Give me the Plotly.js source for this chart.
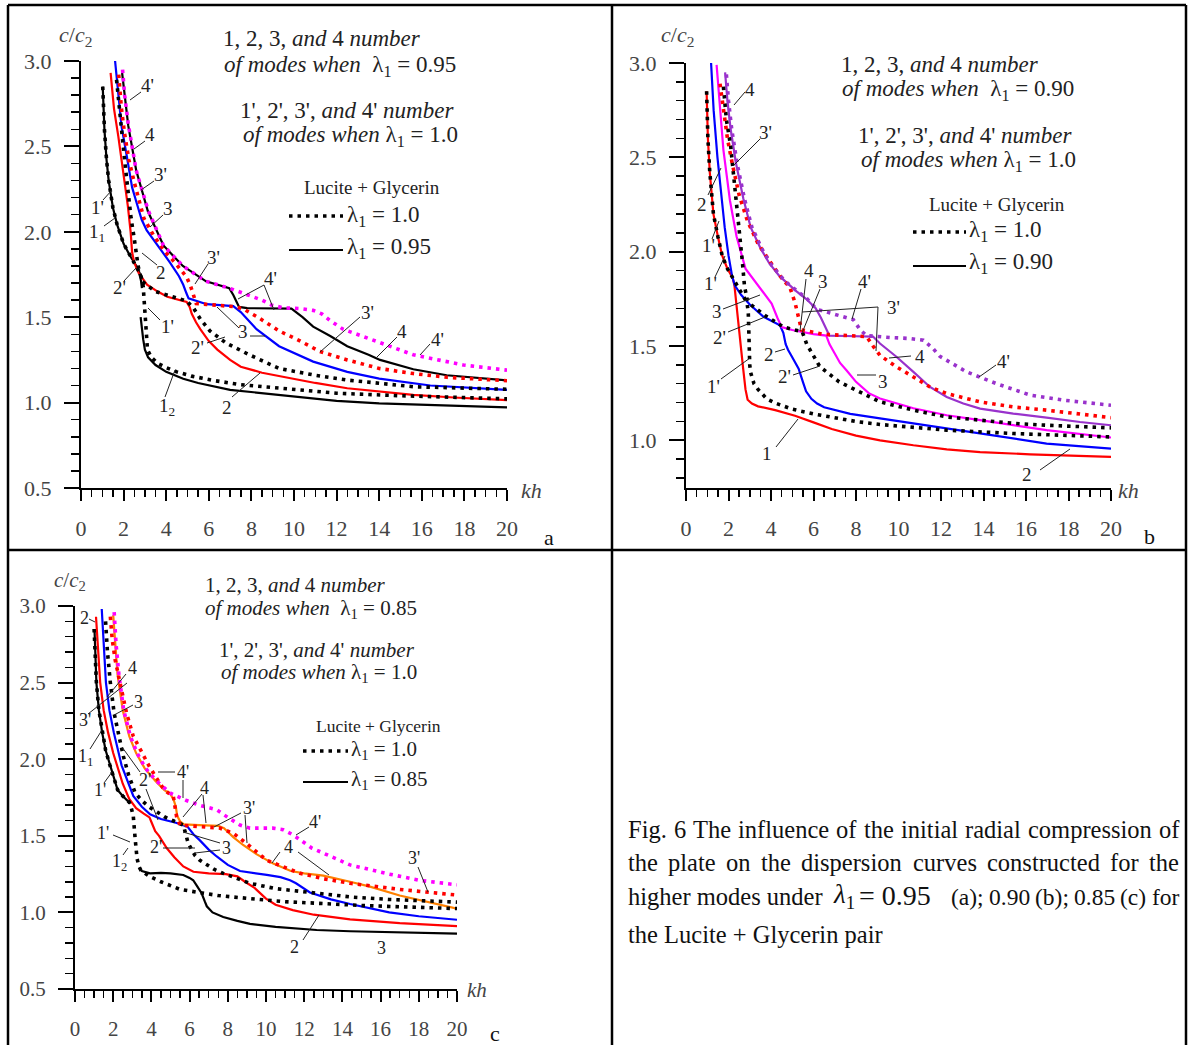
<!DOCTYPE html>
<html><head><meta charset="utf-8">
<script src="https://cdn.plot.ly/plotly-3.0.1.min.js"></script>
<style>html,body{margin:0;padding:0;background:#fff}#chart{width:1189px;height:1045px}</style>
</head><body><div id="chart"></div>
<script>
// ---------------- Panel a : λ1 = 0.95 (solid), λ1 = 1.0 (dotted) ----------------
const a_kh_1_1 = [1.02,1.1,1.2,1.3,1.5,1.7,2.0,2.3,2.6,2.75,2.82,2.86];
const a_c_1_1  = [2.85,2.6,2.42,2.3,2.14,2.04,1.93,1.86,1.8,1.76,1.71,1.67];
const a_kh_1p = [1.02,1.1,1.2,1.3,1.5,1.7,2.0,2.3,2.6,2.8,2.92,2.98,3.02,3.06,3.12,3.3,3.6,4.0,4.5,5.2,6.2,7.5,9.3,12,15,17.5,20];
const a_c_1p  = [2.85,2.6,2.42,2.3,2.14,2.04,1.93,1.86,1.8,1.75,1.68,1.58,1.47,1.38,1.31,1.265,1.23,1.205,1.18,1.155,1.13,1.105,1.085,1.055,1.04,1.03,1.022];
const a_kh_1_2 = [2.8,2.85,2.92,3.0,3.15,3.5,4.0,4.8,5.5,7.0,9.3,12,14,17,20];
const a_c_1_2  = [1.5,1.44,1.37,1.31,1.265,1.22,1.18,1.14,1.115,1.075,1.045,1.01,0.996,0.983,0.972];
const a_kh_2 = [1.39,1.55,1.75,2.0,2.2,2.33,2.4,2.5,2.7,3.1,3.6,4.05,4.5,4.96,5.1,5.2,5.4,5.6,6.0,6.4,7.0,7.5,8.5,9.3,11,12.5,15.6,17.5,20];
const a_c_2  = [2.93,2.72,2.56,2.34,2.15,2.0,1.88,1.82,1.76,1.69,1.65,1.62,1.605,1.59,1.56,1.52,1.47,1.43,1.36,1.31,1.25,1.21,1.175,1.156,1.115,1.084,1.045,1.03,1.015];
const a_kh_2p = [1.67,1.8,1.95,2.1,2.22,2.35,2.5,2.68,2.86,3.5,4.3,4.96,5.3,5.6,6.05,6.8,7.9,9.3,11,12.5,15.6,20];
const a_c_2p  = [2.89,2.7,2.54,2.36,2.21,2.08,1.96,1.8,1.71,1.65,1.62,1.595,1.55,1.49,1.42,1.35,1.28,1.2,1.16,1.132,1.093,1.078];
const a_kh_3 = [1.6,1.75,1.9,2.14,2.4,2.61,2.85,3.08,3.55,4.18,4.6,4.8,4.95,5.05,5.9,7.15,7.5,8.24,9.3,10.9,12.5,14,16.4,20];
const a_c_3  = [3.0,2.8,2.62,2.45,2.26,2.17,2.07,2.01,1.93,1.82,1.74,1.69,1.64,1.61,1.576,1.565,1.53,1.43,1.33,1.24,1.18,1.14,1.1,1.074];
const a_kh_3p = [1.77,1.9,2.04,2.25,2.5,2.95,3.4,3.9,4.41,4.96,5.15,5.3,5.41,5.9,7.15,7.6,8.3,9.3,10.3,11.2,12.5,14,15.6,17.2,20];
const a_c_3p  = [2.92,2.72,2.58,2.42,2.29,2.08,1.98,1.89,1.82,1.735,1.68,1.62,1.58,1.575,1.562,1.55,1.5,1.42,1.36,1.3,1.25,1.2,1.17,1.148,1.128];
const a_kh_4 = [1.93,2.05,2.22,2.59,3.14,3.87,4.78,5.87,6.96,7.15,7.3,7.42,7.8,8.8,9.88,10.4,10.9,11.7,12.5,13.5,14.04,15.6,17.17,20];
const a_c_4  = [2.93,2.8,2.62,2.36,2.12,1.92,1.8,1.71,1.67,1.63,1.59,1.56,1.553,1.55,1.55,1.5,1.445,1.39,1.33,1.28,1.25,1.195,1.16,1.13];
const a_kh_4p = [1.95,2.05,2.22,2.59,3.14,3.87,4.78,5.87,6.96,7.88,8.5,8.97,9.5,10.3,10.9,11.3,11.7,12.3,13.25,14.5,15.6,17.95,20];
const a_c_4p  = [2.95,2.8,2.63,2.36,2.13,1.92,1.8,1.71,1.67,1.63,1.6,1.57,1.555,1.55,1.54,1.52,1.48,1.43,1.386,1.33,1.28,1.22,1.19];

// ---------------- Panel b : λ1 = 0.90 (solid), λ1 = 1.0 (dotted) ----------------
const b_kh_1 = [0.97,1.03,1.12,1.29,1.5,1.7,1.95,2.2,2.28,2.35,2.43,2.55,2.69,2.8,2.9,3.1,3.39,4.2,5.13,6.0,6.86,8.0,9.13,10.7,12.27,13.84,16.19,20];
const b_c_1  = [2.85,2.6,2.42,2.2,2.08,1.98,1.91,1.86,1.82,1.74,1.66,1.52,1.38,1.27,1.215,1.195,1.18,1.16,1.13,1.095,1.06,1.025,1.0,0.974,0.952,0.938,0.926,0.912];
const b_kh_1p = [0.97,1.03,1.12,1.29,1.5,1.7,1.95,2.2,2.5,2.87,2.93,2.95,2.96,3.0,3.04,3.2,3.39,3.8,4.26,5.0,6.0,7.0,8.0,9.13,10.7,12.27,15.4,20];
const b_c_1p  = [2.85,2.6,2.42,2.2,2.08,1.98,1.91,1.86,1.8,1.73,1.68,1.58,1.47,1.4,1.36,1.3,1.27,1.22,1.195,1.165,1.14,1.12,1.1,1.084,1.068,1.054,1.036,1.018];
const b_kh_2 = [1.18,1.3,1.48,1.65,1.82,2.0,2.17,2.3,2.6,3.0,3.65,4.42,4.58,4.69,4.8,5.0,5.3,5.5,5.65,5.9,6.17,6.5,7.73,9.13,10.7,12.27,13.84,15.4,16.97,20];
const b_c_2  = [3.0,2.75,2.5,2.3,2.13,1.98,1.87,1.82,1.77,1.72,1.655,1.61,1.57,1.51,1.48,1.44,1.38,1.31,1.26,1.22,1.195,1.175,1.14,1.116,1.09,1.063,1.036,1.01,0.983,0.956];
const b_kh_2p = [1.76,1.9,2.1,2.35,2.5,2.65,2.75,2.87,3.04,3.74,4.6,5.2,5.47,5.68,6.0,6.3,7.21,8.6,9.13,10.7,12.27,13.84,15.4,16.97,20];
const b_c_2p  = [2.875,2.7,2.56,2.3,2.15,1.95,1.82,1.75,1.72,1.66,1.6,1.585,1.575,1.51,1.45,1.39,1.31,1.23,1.204,1.16,1.124,1.107,1.09,1.08,1.066];
const b_kh_3 = [1.44,1.6,1.76,2.07,2.38,2.8,3.45,4.03,4.3,4.5,5.0,5.5,6.0,6.6,6.75,7.0,7.25,7.56,8.0,8.6,9.13,10.7,12.27,13.84,15.4,16.97,20];
const b_c_3  = [2.99,2.75,2.54,2.27,2.08,1.91,1.815,1.725,1.65,1.6,1.585,1.572,1.563,1.555,1.51,1.46,1.41,1.37,1.31,1.25,1.222,1.17,1.133,1.107,1.08,1.054,1.015];
const b_kh_3p = [1.6,1.75,1.95,2.17,2.5,2.9,3.4,4.0,4.5,4.89,5.13,5.3,5.44,6.46,7.5,8.5,8.8,9.13,9.9,10.7,11.48,12.27,13.84,15.4,16.97,20];
const b_c_3p  = [2.89,2.75,2.6,2.47,2.3,2.16,2.04,1.94,1.86,1.81,1.73,1.65,1.585,1.562,1.555,1.55,1.5,1.45,1.39,1.336,1.283,1.248,1.204,1.177,1.16,1.12];
const b_kh_4 = [1.84,1.95,2.1,2.35,2.7,3.04,3.5,3.91,4.4,4.78,5.2,5.65,6.1,6.35,6.6,6.75,7.5,8.8,9.13,9.9,10.7,11.48,12.27,13.05,13.84,15.4,16.97,18.54,20];
const b_c_4  = [2.95,2.8,2.65,2.47,2.28,2.13,2.02,1.94,1.87,1.83,1.79,1.75,1.7,1.65,1.59,1.555,1.553,1.55,1.513,1.443,1.363,1.283,1.23,1.195,1.168,1.142,1.12,1.097,1.08];
const b_kh_4p = [1.9,2.0,2.15,2.4,2.75,3.1,3.55,3.95,4.45,4.8,5.25,5.7,6.1,6.3,7.25,7.87,8.2,8.5,9.6,10.5,11.17,11.6,11.95,13.2,14.62,16.19,17.76,20];
const b_c_4p  = [2.94,2.8,2.65,2.47,2.28,2.13,2.02,1.94,1.87,1.83,1.79,1.75,1.7,1.69,1.66,1.64,1.585,1.555,1.545,1.54,1.531,1.49,1.445,1.363,1.3,1.24,1.213,1.186];

// ---------------- Panel c : λ1 = 0.85 (solid), λ1 = 1.0 (dotted) ----------------
const c_kh_1_1 = [1.02,1.06,1.12,1.25,1.42,1.6,1.83,2.05,2.23,2.5,2.75,2.9];
const c_c_1_1  = [2.85,2.65,2.5,2.32,2.175,2.06,1.96,1.87,1.8,1.76,1.73,1.71];
const c_kh_1p = [1.0,1.06,1.12,1.25,1.42,1.6,1.83,2.05,2.23,2.5,2.84,2.95,3.05,3.15,3.25,3.35,3.45,3.9,4.5,5.5,6.5,7.5,9.16,11,12.65,15,17.5,20];
const c_c_1p  = [2.85,2.65,2.5,2.32,2.175,2.06,1.96,1.87,1.8,1.76,1.72,1.68,1.63,1.48,1.35,1.3,1.275,1.235,1.2,1.15,1.13,1.11,1.09,1.07,1.06,1.045,1.035,1.025];
const c_kh_low = [3.35,3.5,3.93,4.5,5.0,5.67,6.0,6.19,6.4,6.63,6.8,6.9,7.2,7.76,8.5,9.16,10.5,12.65,14.4,17,20];
const c_c_low  = [1.29,1.27,1.255,1.258,1.255,1.244,1.225,1.21,1.17,1.125,1.07,1.04,1.0,0.97,0.945,0.925,0.905,0.885,0.877,0.868,0.862];
const c_kh_2 = [1.1,1.2,1.32,1.5,1.73,2.0,2.23,2.5,2.84,3.2,3.6,3.9,4.0,4.2,4.4,4.8,5.2,5.67,6.2,7.0,7.9,8.5,8.9,9.4,10.0,10.5,11.4,12.5,14.4,17,20];
const c_c_2  = [2.93,2.7,2.5,2.32,2.175,2.04,1.94,1.84,1.74,1.68,1.645,1.62,1.59,1.53,1.5,1.42,1.36,1.3,1.265,1.255,1.25,1.235,1.2,1.16,1.09,1.05,1.015,0.985,0.955,0.93,0.91];
const c_kh_2p = [1.6,1.7,1.85,2.05,2.27,2.53,2.8,3.15,3.5,3.86,4.3,4.67,5.2,5.67,5.93,6.29,6.54,7.3,7.76,9.16,10.5,12.65,14.5,16.4,18,20];
const c_c_2p  = [2.9,2.7,2.5,2.3,2.17,2.02,1.9,1.78,1.73,1.69,1.655,1.625,1.595,1.57,1.45,1.37,1.34,1.28,1.255,1.19,1.155,1.125,1.1,1.085,1.075,1.067];
const c_kh_3 = [1.4,1.5,1.62,1.8,2.03,2.44,3.05,3.5,3.93,4.5,5.28,5.89,6.2,6.54,7.0,7.42,8.0,8.64,9.34,10.04,10.76,11.26,11.57,12.3,13.4,14.4,16.45,18,20];
const c_c_3  = [2.98,2.75,2.5,2.32,2.175,1.96,1.76,1.69,1.64,1.61,1.585,1.56,1.51,1.47,1.41,1.365,1.31,1.27,1.255,1.245,1.23,1.21,1.19,1.13,1.085,1.055,1.0,0.975,0.952];
const c_kh_3p = [1.85,1.95,2.1,2.34,2.7,3.05,3.45,3.86,4.25,4.67,5.15,5.24,5.32,5.5,6.5,7.59,8.29,8.98,10.04,11.0,11.78,13.0,14.4,17.0,20];
const c_c_3p  = [2.93,2.78,2.65,2.5,2.3,2.15,2.05,1.96,1.88,1.8,1.755,1.69,1.625,1.57,1.56,1.55,1.516,1.45,1.34,1.29,1.255,1.22,1.19,1.15,1.113];
const c_kh_4 = [2.0,2.1,2.23,2.5,2.84,3.2,3.65,4.2,4.67,5.0,5.15,5.28,5.35,5.5,5.7,6.5,7.5,7.8,8.3,8.8,9.5,10.35,11.3,12.0,13.0,14.4,15.4,17.0,18.5,20];
const c_c_4  = [2.94,2.75,2.55,2.32,2.15,2.04,1.94,1.86,1.8,1.77,1.74,1.69,1.63,1.595,1.575,1.57,1.565,1.55,1.49,1.44,1.38,1.32,1.27,1.255,1.24,1.2,1.17,1.11,1.065,1.025];
const c_kh_4p = [2.05,2.15,2.3,2.55,2.9,3.25,3.7,4.25,4.97,5.84,6.5,7.42,8.0,8.64,9.16,10.35,10.9,11.17,11.43,12.4,14.4,16.45,18,20];
const c_c_4p  = [2.96,2.75,2.55,2.32,2.15,2.04,1.94,1.86,1.78,1.73,1.7,1.67,1.62,1.57,1.55,1.55,1.54,1.52,1.505,1.42,1.31,1.25,1.21,1.18];

const kh_ticks = [0,2,4,6,8,10,12,14,16,18,20];

const W = 1189, H = 1045, F = 'Liberation Serif';
const RED='#ff0000', BLUE='#0000ff', BLK='#000000', MAG='#ff00ff', PUR='#9932cc', ORG='#ff8000';
const DOT = '3.5px,5px';

function tr(kh, c, color, dotted, ax){
  return {type:'scatter', mode:'lines', x:kh, y:c, xaxis:'x'+ax, yaxis:'y'+ax,
    hoverinfo:'skip', showlegend:false,
    line: dotted ? {color:color, width:3.6, dash:DOT} : {color:color, width:2.2}};
}
const data = [
  tr(a_kh_1_1,a_c_1_1,BLK,false,''), tr(a_kh_1_2,a_c_1_2,BLK,false,''),
  tr(a_kh_2,a_c_2,RED,false,''), tr(a_kh_3,a_c_3,BLUE,false,''), tr(a_kh_4,a_c_4,BLK,false,''),
  tr(a_kh_1p,a_c_1p,BLK,true,''), tr(a_kh_2p,a_c_2p,BLK,true,''),
  tr(a_kh_3p,a_c_3p,RED,true,''), tr(a_kh_4p,a_c_4p,MAG,true,''),
  tr(b_kh_1,b_c_1,RED,false,'2'), tr(b_kh_2,b_c_2,BLUE,false,'2'), tr(b_kh_3,b_c_3,MAG,false,'2'), tr(b_kh_4,b_c_4,PUR,false,'2'),
  tr(b_kh_1p,b_c_1p,BLK,true,'2'), tr(b_kh_2p,b_c_2p,BLK,true,'2'), tr(b_kh_3p,b_c_3p,RED,true,'2'), tr(b_kh_4p,b_c_4p,PUR,true,'2'),
  tr(c_kh_1_1,c_c_1_1,BLK,false,'3'), tr(c_kh_low,c_c_low,BLK,false,'3'), tr(c_kh_2,c_c_2,RED,false,'3'),
  tr(c_kh_3,c_c_3,BLUE,false,'3'), tr(c_kh_4,c_c_4,ORG,false,'3'),
  tr(c_kh_1p,c_c_1p,BLK,true,'3'), tr(c_kh_2p,c_c_2p,BLK,true,'3'), tr(c_kh_3p,c_c_3p,RED,true,'3'), tr(c_kh_4p,c_c_4p,MAG,true,'3')
];

function xa(x0,x1,anchor,fs){
  return {domain:[x0/W,x1/W], anchor:anchor, range:[0,20], tickmode:'array', tickvals:kh_ticks,
    showline:true, linewidth:2, linecolor:'#000', ticks:'outside', ticklen:11, tickwidth:2, tickcolor:'#000',
    minor:{dtick:0.5, tick0:0, ticks:'outside', ticklen:7, tickwidth:1.5, tickcolor:'#000'},
    showgrid:false, zeroline:false, fixedrange:true, ticklabelstandoff:9,
    tickfont:{family:F, size:fs, color:'#444'}};
}
function ya(ytop,ybot,rmin,anchor,fs){
  return {domain:[1-ybot/H,1-ytop/H], anchor:anchor, range:[rmin,3.0], dtick:0.5, tick0:0, tickformat:'.1f',
    showline:true, linewidth:2, linecolor:'#000', ticks:'outside', ticklen:15, tickwidth:2, tickcolor:'#000',
    minor:{dtick:0.1, tick0:0, ticks:'outside', ticklen:8, tickwidth:1.5, tickcolor:'#000'},
    showgrid:false, zeroline:false, fixedrange:true, ticklabelstandoff:8,
    tickfont:{family:F, size:fs, color:'#444'}};
}

const ann = [], shp = [];
function T(t,x,y,size,extra){ ann.push(Object.assign({text:t, x:x/W, y:1-y/H, xref:'paper', yref:'paper', showarrow:false,
  xanchor:'center', yanchor:'middle', font:{family:F, size:size||19, color:'#222'}}, extra||{})); }
function Ln(x1,y1,x2,y2,w,dash,col){ shp.push({type:'line', xref:'paper', yref:'paper', x0:x1/W, y0:1-y1/H, x1:x2/W, y1:1-y2/H,
  line:{color:col||'#222', width:w||1, dash:dash||'solid'}}); }
function LBL(t,x,y,leaders,fs){ T(t,x,y,fs||19); (leaders||[]).forEach(l=>Ln(l[0],l[1],l[2],l[3])); }
const AX = (sz)=>({font:{family:F,size:sz,color:'#444'}});

// frame
Ln(8,5,1186,5,2.5,null,'#000'); Ln(8,5,8,1045,2.5,null,'#000'); Ln(1186,5,1186,1045,2.5,null,'#000');
Ln(612,5,612,1045,2.5,null,'#000'); Ln(8,550,1186,550,2.5,null,'#000');

// ---- panel a texts ----
T('<i>c</i>/<i>c</i><sub>2</sub>',75,36,22,AX(22));
T('<i>kh</i>',531,490,22,AX(22));
T('a',549,537,22,{font:{family:F,size:22,color:'#111'}});
T('1, 2, 3, <i>and</i> 4 <i>number</i>',322,39,23);
T('<i>of modes when</i>  λ<sub>1</sub> = 0.95',340,66,23);
T("1', 2', 3', <i>and</i> 4' <i>number</i>",347,110,23);
T('<i>of modes when</i> λ<sub>1</sub> = 1.0',350,136,23);
T('Lucite + Glycerin',372,188,19);
Ln(289,216,343,216,3.6,DOT,'#000'); T('λ<sub>1</sub> = 1.0',345,216,23,{xanchor:'left'});
Ln(289,250,343,250,2.2,null,'#000'); T('λ<sub>1</sub> = 0.95',345,248,23,{xanchor:'left'});
LBL("4'",147,86,[[141,92,130,100]]);
LBL('4',150,134,[[145,141,134,149]]);
LBL("3'",160,174,[[154,181,141,190]]);
LBL('3',168,209,[[163,215,150,227]]);
LBL("1'",97,207,[[103,200,112,190]]);
LBL('1<sub>1</sub>',97,233,[[104,226,115,218]]);
LBL('2',161,272,[[157,265,142,253]]);
LBL("2'",119,288,[[124,281,136,268]]);
LBL("3'",213,257,[[208,264,195,284]]);
LBL("4'",270,278,[[264,285,238,299],[264,285,274,310]]);
LBL("1'",167,327,[[160,320,148,308]]);
LBL('3',243,331,[[239,328,217,307],[250,336,265,336]]);
LBL("2'",197,347,[[207,343,225,337]]);
LBL('1<sub>2</sub>',167,407,[[165,397,175,370]]);
LBL('2',227,407,[[232,397,260,373]]);
LBL("3'",367,313,[[360,317,320,352]]);
LBL('4',402,331,[[397,337,377,357]]);
LBL("4'",437,340,[[430,344,420,355]]);

// ---- panel b texts ----
T('<i>c</i>/<i>c</i><sub>2</sub>',677,36,22,AX(22));
T('<i>kh</i>',1128,490,22,AX(22));
T('b',1149,536,22,{font:{family:F,size:22,color:'#111'}});
T('1, 2, 3, <i>and</i> 4 <i>number</i>',940,64,23);
T('<i>of modes when</i>  λ<sub>1</sub> = 0.90',958,90,23);
T("1', 2', 3', <i>and</i> 4' <i>number</i>",965,135,23);
T('<i>of modes when</i> λ<sub>1</sub> = 1.0',968,161,23);
T('Lucite + Glycerin',997,204,19);
Ln(913,232,966,232,3.6,DOT,'#000'); T('λ<sub>1</sub> = 1.0',967,231,23,{xanchor:'left'});
Ln(913,266,966,266,2.2,null,'#000'); T('λ<sub>1</sub> = 0.90',967,263,23,{xanchor:'left'});
LBL('4',750,89,[[745,92,734,105]]);
LBL("3'",765,133,[[760,139,734,165]]);
LBL('2',702,204,[[708,195,721,168]]);
LBL("1'",708,246,[[712,239,719,221]]);
LBL("1'",710,283,[[715,277,725,256]]);
LBL('3',717,312,[[723,309,760,295]]);
LBL("2'",719,337,[[728,332,765,317]]);
LBL("1'",713,386,[[721,379,750,358]]);
LBL('1',767,453,[[776,447,798,419]]);
LBL('4',809,270,[[806,279,800,331]]);
LBL('3',823,281,[[820,289,802,333]]);
LBL("4'",864,281,[[861,289,852,319]]);
LBL("3'",893,307,[[878,307,802,312],[878,307,876,351]]);
LBL('2',769,354,[[775,352,785,349]]);
LBL("2'",784,377,[[793,375,820,366]]);
LBL('3',883,381,[[876,375,857,375]]);
LBL('4',920,356,[[911,356,889,358]]);
LBL("4'",1003,361,[[996,365,979,377]]);
LBL('2',1027,474,[[1040,470,1070,449]]);

// ---- panel c texts ----
T('<i>c</i>/<i>c</i><sub>2</sub>',70,581,21,AX(21));
T('<i>kh</i>',477,990,21,AX(21));
T('c',495,1033,22,{font:{family:F,size:22,color:'#111'}});
T('1, 2, 3, <i>and</i> 4 <i>number</i>',295,585,21);
T('<i>of modes when</i>  λ<sub>1</sub> = 0.85',311,609,21);
T("1', 2', 3', <i>and</i> 4' <i>number</i>",317,650,21);
T('<i>of modes when</i> λ<sub>1</sub> = 1.0',319,673,21);
T('Lucite + Glycerin',378,726,17.5);
Ln(303,751,348,751,3.6,DOT,'#000'); T('λ<sub>1</sub> = 1.0',349,750,21,{xanchor:'left'});
Ln(303,782,348,782,2.2,null,'#000'); T('λ<sub>1</sub> = 0.85',349,780,21,{xanchor:'left'});
const CS = 18;
LBL('2',84,618,[[89,619,95,622]],CS);
LBL('4',132,668,[[126,674,107,697]],CS);
LBL('3',138,702,[[133,705,114,715]],CS);
LBL("3'",85,720,[[88,714,127,683]],CS);
LBL('1<sub>1</sub>',85,757,[[90,749,102,730]],CS);
LBL("1'",100,790,[[104,783,112,772]],CS);
LBL("2'",145,780,[[140,772,122,747],[146,789,158,820]],CS);
LBL("4'",183,772,[[175,772,158,772],[183,780,183,798]],CS);
LBL('4',204,788,[[202,794,183,817],[203,795,206,823]],CS);
LBL("3'",249,808,[[241,813,214,827],[245,815,247,843]],CS);
LBL("1'",103,833,[[113,835,130,842]],CS);
LBL('1<sub>2</sub>',119,862,[[123,855,128,848]],CS);
LBL("2'",156,847,[[163,848,195,848]],CS);
LBL('3',226,848,[[220,843,183,832],[220,850,195,853]],CS);
LBL("4'",315,822,[[309,827,296,835]],CS);
LBL('4',288,847,[[280,852,272,863],[298,852,329,875]],CS);
LBL("3'",414,858,[[418,867,428,892]],CS);
LBL('2',294,947,[[303,940,319,915]],CS);
LBL('3',381,948,[],CS);

// ---- caption (justified word by word) ----
const meas = document.createElement('canvas').getContext('2d');
function wordW(w,size){ meas.font = size+'px "'+F+'"'; return meas.measureText(w).width; }
function justify(words,y,size,x0,x1){
  const ws = words.map(w=>wordW(w,size));
  const gap = Math.max(4,(x1-x0-ws.reduce((a,b)=>a+b,0))/(words.length-1));
  let x = x0;
  words.forEach((w,i)=>{ T(w,x-1,y,size,{xanchor:'left',font:{family:F,size:size,color:'#111'}}); x += ws[i]+gap; });
}
justify('Fig. 6 The influence of the initial radial compression of'.split(' '),829,24.5,627,1178);
justify('the plate on the dispersion curves constructed for the'.split(' '),862,24.5,627,1178);
T('higher modes under',626,896,24.5,{xanchor:'left',font:{family:F,size:24.5,color:'#111'}});
T('<i>λ</i><sub>1</sub>',831,896,27,{xanchor:'left',font:{family:F,size:27,color:'#111'}});
T('= 0.95',857,895,28,{xanchor:'left',font:{family:F,size:28,color:'#111'}});
justify('(a); 0.90 (b); 0.85 (c) for'.split(' '),897,23.5,950,1178);
T('the Lucite + Glycerin pair',626,934,24.5,{xanchor:'left',font:{family:F,size:24.5,color:'#111'}});

const layout = {
  width:W, height:H, margin:{l:0,r:0,t:0,b:0}, paper_bgcolor:'#fff', plot_bgcolor:'rgba(0,0,0,0)',
  showlegend:false,
  xaxis: xa(81,507,'y',22),  yaxis: ya(61,488,0.5,'x',22),
  xaxis2: xa(686,1111,'y2',22), yaxis2: ya(63,487.5,0.75,'x2',22),
  xaxis3: xa(75,457,'y3',21), yaxis3: ya(606,989,0.5,'x3',21),
  annotations: ann, shapes: shp
};
Plotly.newPlot('chart', data, layout, {staticPlot:true, displayModeBar:false});
</script></body></html>
